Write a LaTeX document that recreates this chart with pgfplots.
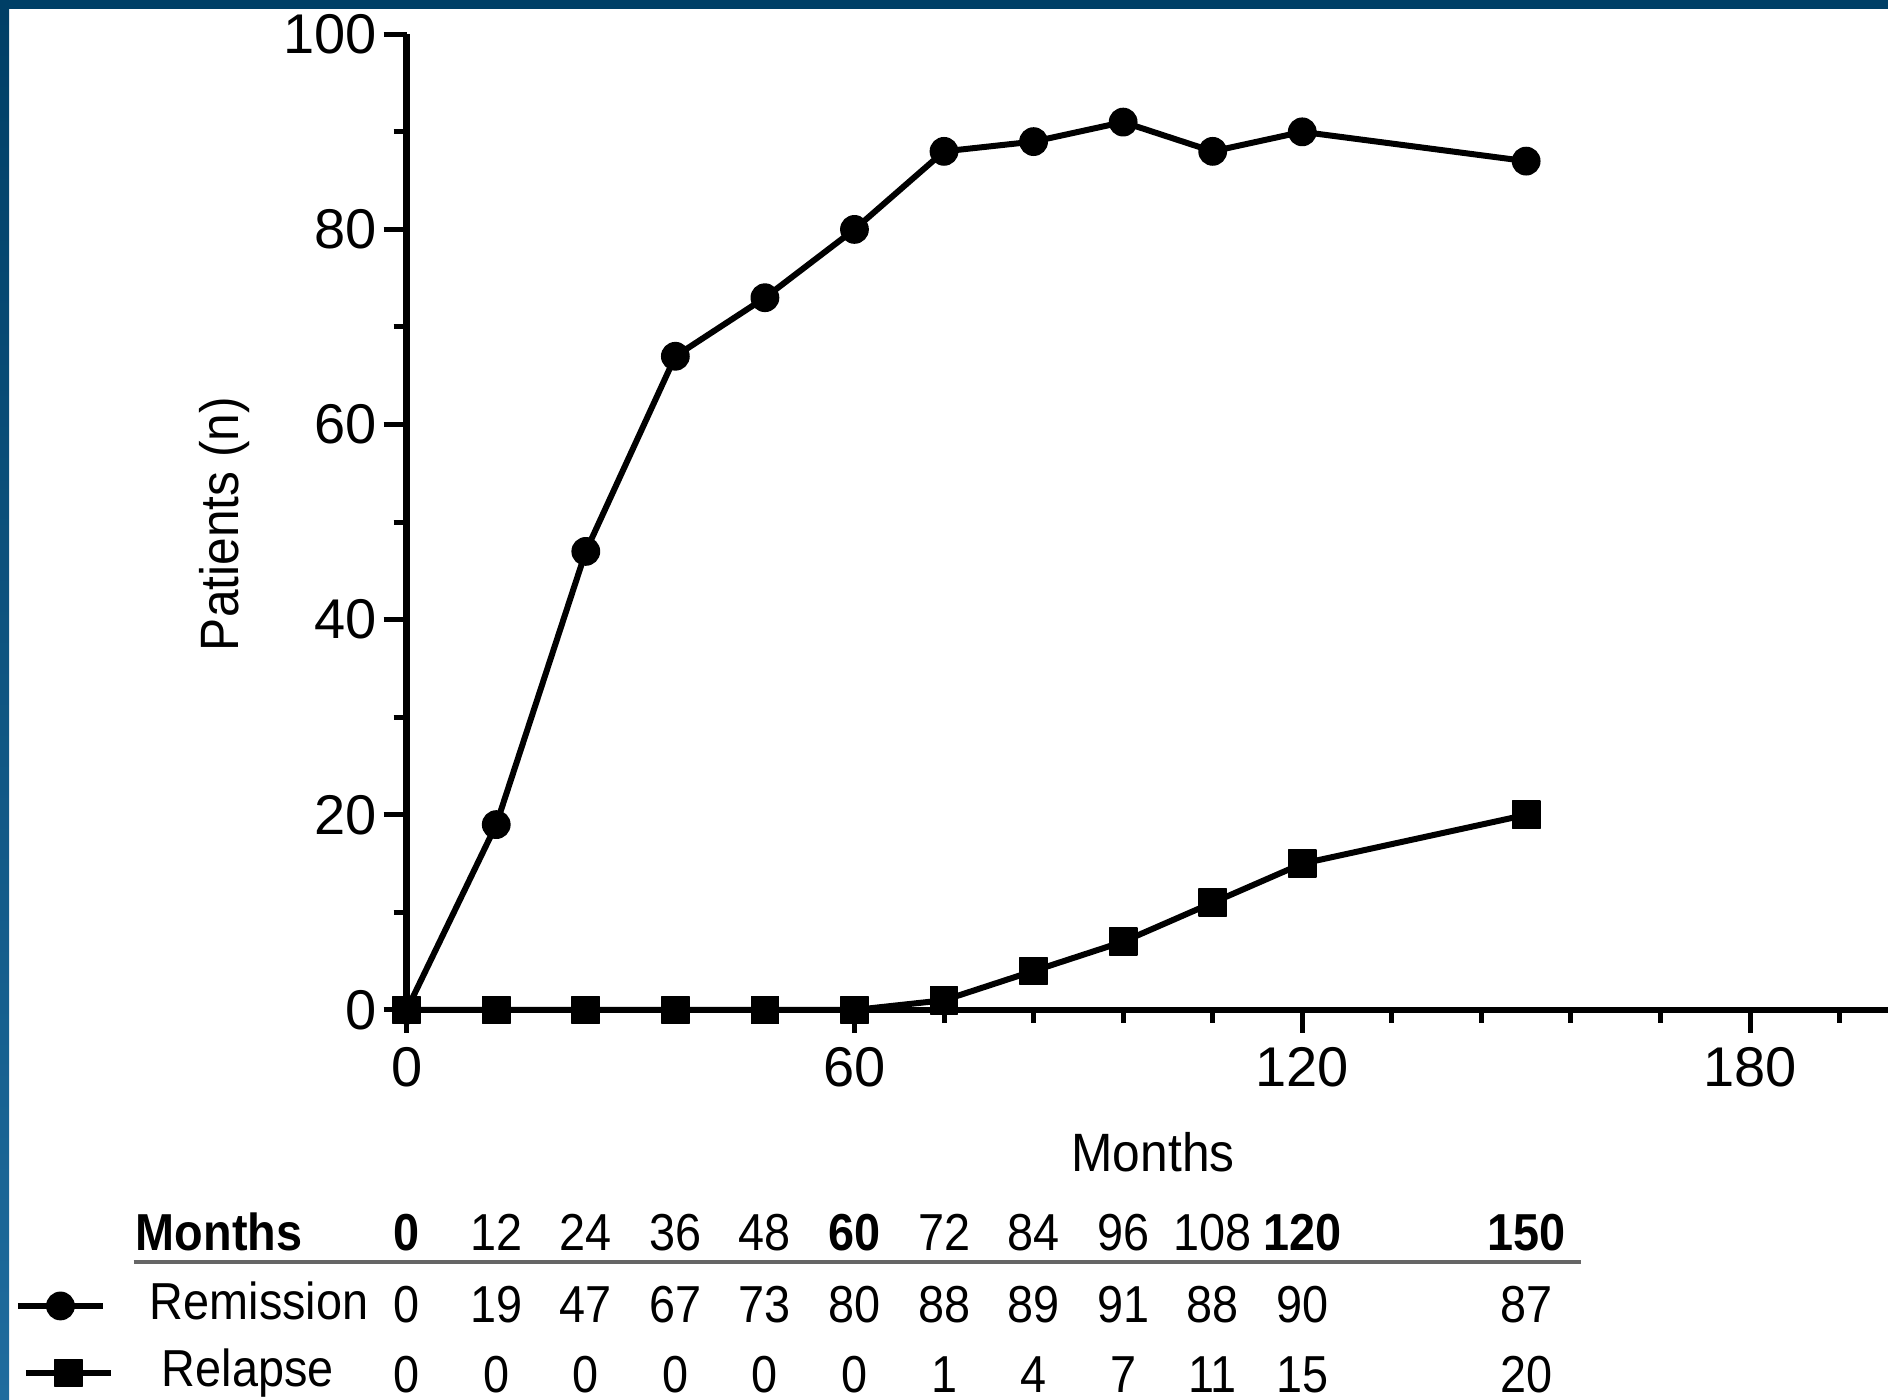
\documentclass[border=0pt]{standalone}
\usepackage{fontspec}
\setmainfont{Liberation Sans}
\newfontfamily\tablefont[FakeStretch=0.9]{Liberation Sans}
\newfontfamily\labelfont[FakeStretch=0.92]{Liberation Sans}
\usepackage{pgfplots}
\usepackage{pgfplotstable}
\pgfplotsset{compat=1.18}
\definecolor{framedark}{HTML}{003F66}
\definecolor{framelight}{HTML}{1F6C9E}
\definecolor{rulegray}{HTML}{666666}

\pgfplotsset{
  remleg/.style={legend image code/.code={\draw[mark repeat=2,mark phase=2,##1] plot coordinates {(0pt,0pt) (10.625pt,0pt) (21.25pt,0pt)};}},
  relleg/.style={legend image code/.code={\draw[mark repeat=2,mark phase=2,##1] plot coordinates {(2pt,0pt) (12.625pt,0pt) (23.25pt,0pt)};}},
}

\pgfplotstableread{
month remission relapse
0 0 0
12 19 0
24 47 0
36 67 0
48 73 0
60 80 0
72 88 1
84 89 4
96 91 7
108 88 11
120 90 15
150 87 20
}\datatable

\begin{document}
\begin{tikzpicture}
\useasboundingbox (0,0) rectangle (472pt,350pt);
\fill[white] (0,0) rectangle (472pt,350pt);
\begin{axis}[
  at={(101.675pt,97.5pt)}, anchor=south west,
  x=1.86575pt, y=2.43925pt,
  xmin=0, xmax=198.5, ymin=0, ymax=100,
  axis lines=left,
  axis line style={-, line width=1.6pt, black},
  clip=false,
  xtick={0,60,120,180},
  minor xtick={12,24,36,48,72,84,96,108,132,144,156,168,192},
  ytick={0,20,40,60,80,100},
  minor ytick={10,30,50,70,90},
  tick align=outside,
  major tick length=5.75pt, minor tick length=3.25pt,
  tick style={black, line width=1.25pt},
  /pgf/number format/assume math mode=true,
  tick label style={font=\fontsize{14}{16}\selectfont},
  yticklabel style={inner xsep=1.5pt},
  xlabel={Months}, ylabel={Patients (n)},
  label style={font=\labelfont\fontsize{13.5}{16}\selectfont},
  xlabel style={at={(axis description cs:0.5038,-0.1455)}, anchor=center},
  ylabel style={at={(axis description cs:-0.1227,0.498)}, anchor=center},
  legend style={at={(axis description cs:-0.26443,-0.2767)}, anchor=north west,
    draw=none, fill=none, inner sep=0pt, outer sep=0pt,
    row sep=3.75pt, column sep=9pt,
    font=\tablefont\fontsize{13}{15}\selectfont,
    nodes={inner sep=0pt, text height=10pt, text depth=3pt}},
  legend cell align=left,
]
\addplot[black, line width=1.5pt, line join=round, mark=*, mark size=3.4pt,
  mark options={solid, fill=black, line width=0.4pt}, remleg]
  table[x=month, y=remission] {\datatable};
\addplot[black, line width=1.5pt, line join=round, mark=square*, mark size=3.4pt,
  mark options={solid, fill=black, line width=0.4pt}, relleg]
  table[x=month, y=relapse] {\datatable};
\legend{Remission, \hspace{3pt}Relapse}

% table under the chart
\tikzset{tab/.style={anchor=base, inner sep=0pt, font=\tablefont\fontsize{13}{15}\selectfont},
         tabb/.style={anchor=base, inner sep=0pt, font=\tablefont\fontsize{13}{15}\selectfont\bfseries}}
\node[tabb, anchor=base west] at (axis cs:-36.4,-24.6) {Months};
\node[tabb] at (axis cs:0,-24.6) {0};
\node[tab] at (axis cs:12,-24.6) {12};
\node[tab] at (axis cs:24,-24.6) {24};
\node[tab] at (axis cs:36,-24.6) {36};
\node[tab] at (axis cs:48,-24.6) {48};
\node[tabb] at (axis cs:60,-24.6) {60};
\node[tab] at (axis cs:72,-24.6) {72};
\node[tab] at (axis cs:84,-24.6) {84};
\node[tab] at (axis cs:96,-24.6) {96};
\node[tab] at (axis cs:108,-24.6) {108};
\node[tabb] at (axis cs:120,-24.6) {120};
\node[tabb] at (axis cs:150,-24.6) {150};
\draw[rulegray, line width=1.1pt] (axis cs:-36.6,-25.83) -- (axis cs:157.4,-25.83);
% remission row
\node[tab] at (axis cs:0,-31.98) {0};
\node[tab] at (axis cs:12,-31.98) {19};
\node[tab] at (axis cs:24,-31.98) {47};
\node[tab] at (axis cs:36,-31.98) {67};
\node[tab] at (axis cs:48,-31.98) {73};
\node[tab] at (axis cs:60,-31.98) {80};
\node[tab] at (axis cs:72,-31.98) {88};
\node[tab] at (axis cs:84,-31.98) {89};
\node[tab] at (axis cs:96,-31.98) {91};
\node[tab] at (axis cs:108,-31.98) {88};
\node[tab] at (axis cs:120,-31.98) {90};
\node[tab] at (axis cs:150,-31.98) {87};
% relapse row
\node[tab] at (axis cs:0,-39.2) {0};
\node[tab] at (axis cs:12,-39.2) {0};
\node[tab] at (axis cs:24,-39.2) {0};
\node[tab] at (axis cs:36,-39.2) {0};
\node[tab] at (axis cs:48,-39.2) {0};
\node[tab] at (axis cs:60,-39.2) {0};
\node[tab] at (axis cs:72,-39.2) {1};
\node[tab] at (axis cs:84,-39.2) {4};
\node[tab] at (axis cs:96,-39.2) {7};
\node[tab] at (axis cs:108,-39.2) {11};
\node[tab] at (axis cs:120,-39.2) {15};
\node[tab] at (axis cs:150,-39.2) {20};
\end{axis}
\fill[framedark] (0,347.75pt) rectangle (472pt,350pt);
\shade[top color=framedark, bottom color=framelight] (0,0) rectangle (2.25pt,347.75pt);
\end{tikzpicture}
\end{document}
